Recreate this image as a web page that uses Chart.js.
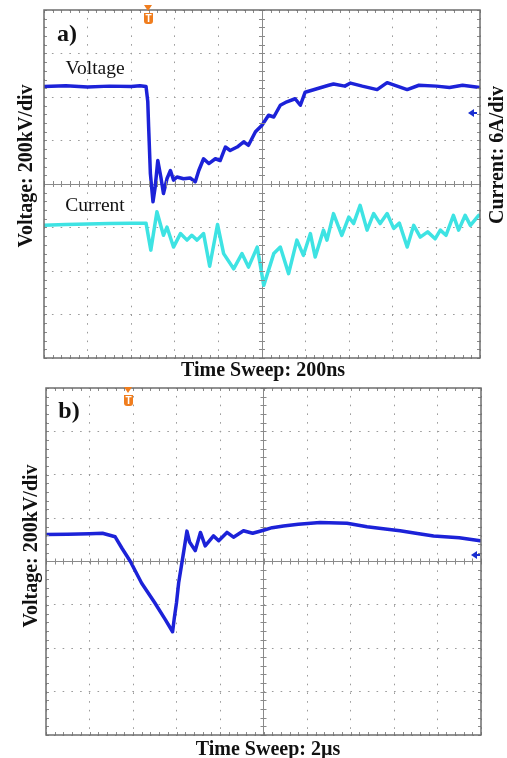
<!DOCTYPE html>
<html><head><meta charset="utf-8">
<script src="https://cdn.jsdelivr.net/npm/chart.js@4/dist/chart.umd.min.js"></script>
<style>
html,body{margin:0;padding:0;background:#fff;}
body{width:507px;height:758px;position:relative;overflow:hidden;font-family:"Liberation Serif","DejaVu Serif",serif;}
.box{position:absolute;left:0;width:507px;}
.t{position:absolute;white-space:nowrap;color:#111;line-height:1;}
.b{font-weight:bold;}
.c{transform:translate(-50%,-50%);}
.rot{transform:translate(-50%,-50%) rotate(-90deg);}
.trig{position:absolute;width:9px;height:11px;background:#f07d1e;border-radius:0 0 3px 3px;color:#fff;font:bold 10px "Liberation Sans",sans-serif;text-align:center;line-height:11px;}
.trigtop{position:absolute;width:0;height:0;border-left:4px solid transparent;border-right:4px solid transparent;border-top:6px solid #f07d1e;}
.arrow{position:absolute;width:0;height:0;border-top:4px solid transparent;border-bottom:4px solid transparent;border-right:6px solid #1a2fd0;}
.arrowline{position:absolute;height:2px;width:4px;background:#1a2fd0;}
</style></head>
<body>
<div class="box" style="top:0;height:372px;"><canvas id="ca" width="507" height="372"></canvas></div>
<div class="box" style="top:372px;height:386px;"><canvas id="cb" width="507" height="386"></canvas></div>

<div class="t b c" style="left:67px;top:33px;font-size:24px;">a)</div>
<div class="t c" style="left:95px;top:68px;font-size:19.5px;">Voltage</div>
<div class="t c" style="left:95px;top:205px;font-size:19.5px;">Current</div>
<div class="t b rot" style="left:25px;top:166px;font-size:20px;">Voltage: 200kV/div</div>
<div class="t b rot" style="left:496px;top:155px;font-size:20px;">Current: 6A/div</div>
<div class="t b c" style="left:263px;top:369px;font-size:20px;">Time Sweep: 200ns</div>

<div class="t b c" style="left:69px;top:410px;font-size:24px;">b)</div>
<div class="t b rot" style="left:30px;top:546px;font-size:20px;">Voltage: 200kV/div</div>
<div class="t b c" style="left:268px;top:748px;font-size:20px;">Time Sweep: 2µs</div>

<div class="trigtop" style="left:144px;top:5px;"></div>
<div class="trig" style="left:144px;top:13px;">T</div>
<div class="trigtop" style="left:124px;top:387px;"></div>
<div class="trig" style="left:124px;top:395px;">T</div>

<div class="arrow" style="left:468px;top:109px;"></div><div class="arrowline" style="left:473px;top:112px;"></div>
<div class="arrow" style="left:471px;top:551px;"></div><div class="arrowline" style="left:476px;top:554px;"></div>

<script>
// ---- Data (time in divisions, amplitude in divisions) ----
const voltA_t = [0,0.5,1,1.5,2,2.2,2.34,2.38,2.4,2.44,2.5,2.55,2.61,2.68,2.74,2.82,2.9,2.97,3.05,3.2,3.35,3.47,3.55,3.66,3.78,3.93,4.04,4.16,4.27,4.43,4.58,4.69,4.85,5.0,5.15,5.27,5.42,5.57,5.76,5.88,5.99,6.26,6.53,6.64,6.9,7.03,7.3,7.64,7.87,8.1,8.33,8.6,9.0,9.3,9.6,10];
const voltA_v = [2.24,2.26,2.23,2.25,2.24,2.26,2.24,1.9,1.31,0.24,-0.41,-0.07,0.54,0.16,-0.22,0.12,0.31,0.09,0.16,0.12,0.14,0.05,0.31,0.58,0.47,0.58,0.54,0.85,0.77,0.85,0.97,0.89,1.2,1.35,1.58,1.54,1.81,1.89,1.96,1.81,2.11,2.19,2.27,2.3,2.25,2.32,2.25,2.17,2.33,2.25,2.17,2.27,2.25,2.22,2.27,2.22];

const currA_t = [0,0.5,1,1.5,2,2.34,2.45,2.59,2.74,2.82,2.97,3.13,3.28,3.39,3.51,3.66,3.8,3.98,4.12,4.35,4.54,4.69,4.89,5.04,5.27,5.42,5.61,5.8,5.95,6.11,6.22,6.41,6.49,6.64,6.83,6.99,7.1,7.25,7.41,7.56,7.71,7.87,8.02,8.15,8.33,8.48,8.63,8.8,8.97,9.09,9.22,9.39,9.51,9.66,9.78,9.97];
const currA_v = [-0.95,-0.93,-0.92,-0.91,-0.9,-0.9,-1.52,-0.64,-1.18,-0.99,-1.45,-1.14,-1.29,-1.18,-1.29,-1.14,-1.89,-0.93,-1.6,-1.95,-1.6,-1.91,-1.45,-2.33,-1.6,-1.45,-2.06,-1.29,-1.64,-1.14,-1.68,-1.06,-1.29,-0.68,-1.18,-0.76,-0.91,-0.49,-1.06,-0.68,-0.91,-0.68,-1.02,-0.9,-1.45,-0.95,-1.22,-1.1,-1.26,-1.06,-1.18,-0.72,-1.06,-0.72,-0.95,-0.72];

const voltB_t = [0,0.5,1.0,1.3,1.59,1.75,1.94,2.2,2.5,2.75,2.91,2.95,3.0,3.05,3.15,3.24,3.3,3.43,3.55,3.66,3.85,3.97,4.16,4.31,4.54,4.75,5.0,5.2,5.46,5.8,6.3,6.92,7.38,7.8,8.14,8.5,8.91,9.5,9.98];
const voltB_v = [0.62,0.63,0.64,0.65,0.57,0.3,0.0,-0.5,-0.95,-1.35,-1.62,-1.3,-0.95,-0.49,0.13,0.7,0.45,0.25,0.67,0.36,0.59,0.48,0.67,0.56,0.71,0.65,0.72,0.78,0.82,0.86,0.9,0.88,0.8,0.75,0.71,0.65,0.59,0.55,0.48];

const xTicks = [0,1,2,3,4,5,6,7,8,9,10];
const yTicks = [-4,-3,-2,-1,0,1,2,3,4];

const pts = (t, v) => t.map((x, i) => ({x, y: v[i]}));

const scopePlugin = {
  id: 'scope',
  afterDatasetsDraw(chart) {
    const {ctx, chartArea: a, scales: {x, y}} = chart;
    ctx.save();
    ctx.strokeStyle = '#8a8a8a';
    ctx.lineWidth = 1;
    const cx = x.getPixelForValue(5), cy = y.getPixelForValue(0);
    ctx.beginPath();
    for (let v = 0; v <= 10.001; v += 0.2) {
      const px = Math.round(x.getPixelForValue(v)) + 0.5;
      ctx.moveTo(px, cy - 3); ctx.lineTo(px, cy + 3);
      ctx.moveTo(px, a.top); ctx.lineTo(px, a.top + 3);
      ctx.moveTo(px, a.bottom); ctx.lineTo(px, a.bottom - 3);
    }
    for (let v = -4; v <= 4.001; v += 0.2) {
      const py = Math.round(y.getPixelForValue(v)) + 0.5;
      ctx.moveTo(cx - 3, py); ctx.lineTo(cx + 3, py);
      ctx.moveTo(a.left, py); ctx.lineTo(a.left + 3, py);
      ctx.moveTo(a.right, py); ctx.lineTo(a.right - 3, py);
    }
    ctx.stroke();
    ctx.strokeStyle = '#6e6e6e';
    ctx.lineWidth = 1.5;
    ctx.strokeRect(a.left, a.top, a.right - a.left, a.bottom - a.top);
    ctx.restore();
  }
};

function scopeScales() {
  return {
    x: {type: 'linear', min: 0, max: 10, afterBuildTicks: s => { s.ticks = xTicks.map(v => ({value: v})); },
        ticks: {display: false}, grid: {color: c => (c.tick && c.tick.value === 5) ? '#8a8a8a' : '#9a9a9a', lineWidth: 1, drawTicks: false},
        border: {display: false, dash: c => (c.tick && c.tick.value === 5) ? [] : [1.6, 7.12], dashOffset: 0.8}},
    y: {type: 'linear', min: -4, max: 4, afterBuildTicks: s => { s.ticks = yTicks.map(v => ({value: v})); },
        ticks: {display: false}, grid: {color: c => (c.tick && c.tick.value === 0) ? '#8a8a8a' : '#9a9a9a', lineWidth: 1, drawTicks: false},
        border: {display: false, dash: c => (c.tick && c.tick.value === 0) ? [] : [1.6, 7.12], dashOffset: 0.8}}
  };
}

const common = (padding) => ({
  responsive: false, animation: false, devicePixelRatio: 1,
  layout: {padding},
  plugins: {legend: {display: false}, tooltip: {enabled: false}},
  elements: {point: {radius: 0}, line: {tension: 0, borderJoinStyle: 'round', borderCapStyle: 'round'}},
  scales: scopeScales()
});

new Chart(document.getElementById('ca'), {
  type: 'line',
  data: {datasets: [
    {label: 'Voltage', data: pts(voltA_t, voltA_v), borderColor: '#1c22d8', borderWidth: 3.5},
    {label: 'Current', data: pts(currA_t, currA_v), borderColor: '#3ee3e3', borderWidth: 3.5}
  ]},
  options: common({left: 44, top: 10, right: 27, bottom: 14}),
  plugins: [scopePlugin]
});

new Chart(document.getElementById('cb'), {
  type: 'line',
  data: {datasets: [
    {label: 'Voltage', data: pts(voltB_t, voltB_v), borderColor: '#1c22d8', borderWidth: 3.5}
  ]},
  options: common({left: 46, top: 16, right: 26, bottom: 23}),
  plugins: [scopePlugin]
});
</script>
</body></html>
